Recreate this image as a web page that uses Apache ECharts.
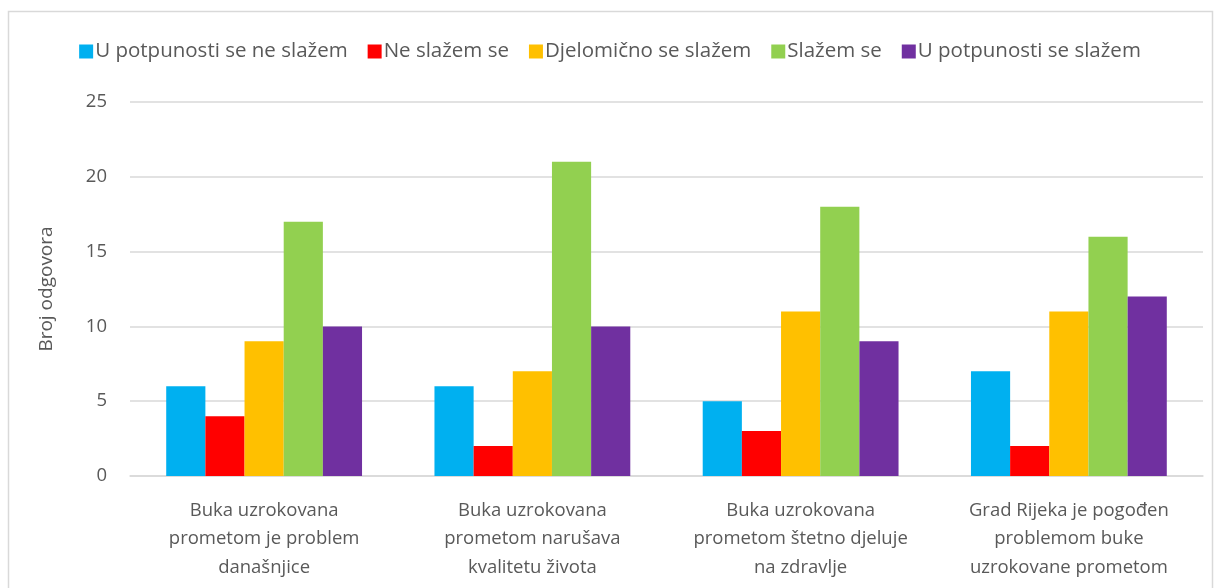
<!DOCTYPE html>
<html><head><meta charset="utf-8">
<script src="https://cdn.jsdelivr.net/npm/echarts@6/dist/echarts.min.js"></script>
<style>html,body{margin:0;padding:0;background:#fff}#c{width:1220px;height:588px}</style>
</head><body><div id="c"></div>
<script>
const categories = [
  'Buka uzrokovana\nprometom je problem\ndanašnjice',
  'Buka uzrokovana\nprometom narušava\nkvalitetu života',
  'Buka uzrokovana\nprometom štetno djeluje\nna zdravlje',
  'Grad Rijeka je pogođen\nproblemom buke\nuzrokovane prometom'
];
const seriesNames = ['U potpunosti se ne slažem','Ne slažem se','Djelomično se slažem','Slažem se','U potpunosti se slažem'];
const s1 = [6, 6, 5, 7];
const s2 = [4, 2, 3, 2];
const s3 = [9, 7, 11, 11];
const s4 = [17, 21, 18, 16];
const s5 = [10, 10, 9, 12];
const colors = ['#00B0F0','#FF0000','#FFC000','#92D050','#7030A0'];
const yTicks = [0, 5, 10, 15, 20, 25];

const font = "'Open Sans', 'Noto Sans', sans-serif";
const chart = echarts.init(document.getElementById('c'));
const data = [s1, s2, s3, s4, s5];
chart.setOption({
  animation: false,
  color: colors,
  graphic: [{type:'rect', shape:{x:8.5,y:11.5,width:1204,height:600}, style:{fill:'none', stroke:'#d9d9d9', lineWidth:1.5}, silent:true}],
  legend: {
    top: 36, left: 'center', itemWidth: 14, itemHeight: 14, itemGap: 20,
    icon: 'rect',
    textStyle: {fontFamily: font, fontSize: 20.5, color: '#595959', padding:[0,0,0,-3]},
    data: seriesNames
  },
  grid: {left: 130, right: 17, top: 102, bottom: 112},
  xAxis: {
    type: 'category', data: categories,
    axisLine: {lineStyle: {color: '#d9d9d9', width: 1.5}},
    axisTick: {show: false},
    axisLabel: {fontFamily: font, fontSize: 18.5, color: '#595959', lineHeight: 28.5, margin: 20, interval: 0}
  },
  yAxis: {
    type: 'value', min: yTicks[0], max: yTicks[yTicks.length-1], interval: 5,
    name: 'Broj odgovora', nameLocation: 'middle', nameGap: 74, nameRotate: 90,
    nameTextStyle: {fontFamily: font, fontSize: 19, color: '#595959'},
    axisLine: {show: false}, axisTick: {show: false},
    axisLabel: {fontFamily: font, fontSize: 18.5, color: '#595959', margin: 23},
    splitLine: {lineStyle: {color: '#d9d9d9', width: 1.5}}
  },
  series: seriesNames.map((n, i) => ({
    name: n, type: 'bar', data: data[i], barGap: '0%', barCategoryGap: '27%'
  }))
});
</script></body></html>
